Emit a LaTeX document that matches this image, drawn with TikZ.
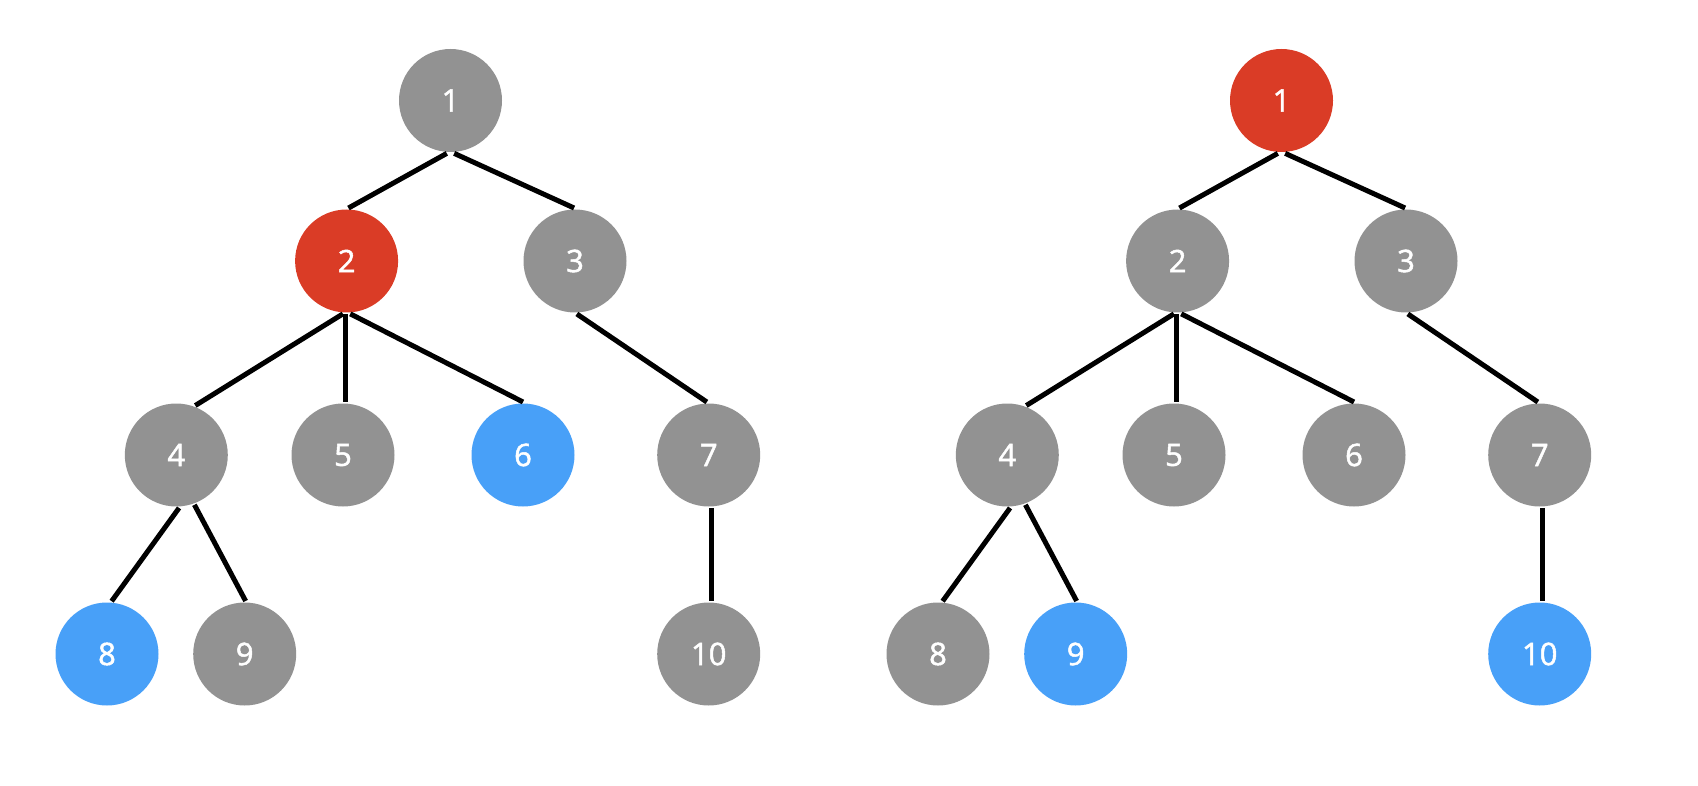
\documentclass[tikz,border=0pt]{standalone}
\usepackage{fontspec}
\newfontfamily\digitfont{Open Sans}[FakeBold=1.6]
\usepackage{tikz}

\definecolor{nodegray}{RGB}{146,146,146}
\definecolor{nodered}{RGB}{218,60,38}
\definecolor{nodeblue}{RGB}{72,160,248}

\begin{document}
\begin{tikzpicture}[
    % GLOBAL CFG
    x=1pt, y=-1pt,
    font=\digitfont\fontsize{31}{31}\selectfont,
    % Styles
    vertex/.style={% For the tree nodes
        circle,
        fill=nodegray,
        text=white,
        minimum size=103pt,
        inner sep=0pt,
        outer sep=1.5pt,
        },
    hot/.style={% The current node
        fill=nodered,
        },
    leaf/.style={% The marked nodes
        fill=nodeblue,
        },
    edge/.style={% Tree connections
        line width=5pt,
        }
    ]

\useasboundingbox (0,0) rectangle (1698,786);

%Start drawing the thing...
    % Left tree, named l#
    \node [vertex] (l1) at (450.5,100.5) {1};
    \node [vertex, hot] (l2) at (346.6,261) {2};
    \node [vertex] (l3) at (575,261) {3};
    \node [vertex] (l4) at (176.3,455) {4};
    \node [vertex] (l5) at (343,455) {5};
    \node [vertex, leaf] (l6) at (523,455) {6};
    \node [vertex] (l7) at (708.7,455) {7};
    \node [vertex, leaf] (l8) at (107,654) {8};
    \node [vertex] (l9) at (244.7,654) {9};
    \node [vertex] (l10) at (708.7,654) {10};

    % Right tree, named r#
    \node [vertex, hot] (r1) at (1281.5,100.5) {1};
    \node [vertex] (r2) at (1177.6,261) {2};
    \node [vertex] (r3) at (1406,261) {3};
    \node [vertex] (r4) at (1007.3,455) {4};
    \node [vertex] (r5) at (1174,455) {5};
    \node [vertex] (r6) at (1354,455) {6};
    \node [vertex] (r7) at (1539.7,455) {7};
    \node [vertex] (r8) at (938,654) {8};
    \node [vertex, leaf] (r9) at (1075.7,654) {9};
    \node [vertex, leaf] (r10) at (1539.7,654) {10};

% Start connecting all.
    % Left tree
    \draw [edge] (l1.-94) -- (l2.88);
    \draw [edge] (l1.-86) -- (l3.91);
    \draw [edge] (l2.-94) -- (l4.69);
    \draw [edge] (l2.-91) -- (l2.-91 |- l5.north);
    \draw [edge] (l2.-86) -- (l6.90);
    \draw [edge] (l3.-88) -- (l7.92);
    \draw [edge] (l4.-87) -- (l8.85);
    \draw [edge] (l4.-70) -- (l9.89);
    \draw [edge] (l7.-87) -- (l7.-87 |- l10.north);

    % Right tree
    \draw [edge] (r1.-94) -- (r2.88);
    \draw [edge] (r1.-86) -- (r3.91);
    \draw [edge] (r2.-94) -- (r4.69);
    \draw [edge] (r2.-91) -- (r2.-91 |- r5.north);
    \draw [edge] (r2.-86) -- (r6.90);
    \draw [edge] (r3.-88) -- (r7.92);
    \draw [edge] (r4.-87) -- (r8.85);
    \draw [edge] (r4.-70) -- (r9.89);
    \draw [edge] (r7.-87) -- (r7.-87 |- r10.north);

\end{tikzpicture}
\end{document}
